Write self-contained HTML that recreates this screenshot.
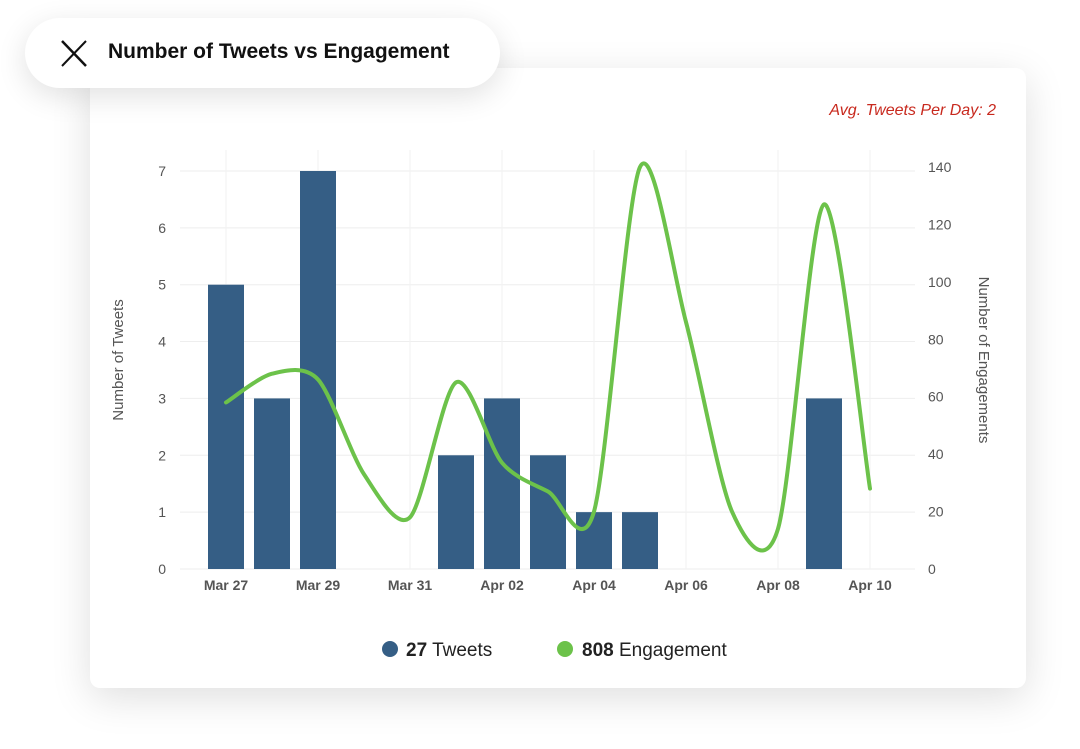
<!DOCTYPE html>
<html><head><meta charset="utf-8"><style>
body{margin:0;width:1080px;height:749px;background:#fff;font-family:"Liberation Sans",sans-serif;position:relative;overflow:hidden}
.card{position:absolute;left:90px;top:68px;width:936px;height:620px;background:#fff;border-radius:10px;box-shadow:0 10px 40px rgba(0,0,0,0.13)}
.pill{position:absolute;left:25px;top:18px;width:475px;height:70px;background:#fff;border-radius:35px;box-shadow:0 8px 30px rgba(0,0,0,0.12)}
.title{position:absolute;left:108px;top:40px;font-size:21px;font-weight:bold;color:#111}
.avg{position:absolute;right:84px;top:102px;color:#c8291e;font-style:italic;font-size:16px}
svg{position:absolute;left:0;top:0}
</style></head><body>
<div class="card"></div>
<div class="pill"></div>
<svg width="1080" height="749">
<g stroke="#111" stroke-width="2.5" fill="none"><path d="M62 41 L86 66"/><path d="M86 41 L62 66" stroke-width="2"/></g>
<g id="g"></g></svg>
<div class="title">Number of Tweets vs Engagement</div>
<div class="avg">Avg. Tweets Per Day: 2</div>
<script>
const dates=["Mar 27","Mar 28","Mar 29","Mar 30","Mar 31","Apr 01","Apr 02","Apr 03","Apr 04","Apr 05","Apr 06","Apr 07","Apr 08","Apr 09","Apr 10"];
const tweets=[5,3,7,0,0,2,3,2,1,1,0,0,0,3,0];
const engagement=[58,68,66,33,18,65,37,27,20,140,86,20,14,127,28];
const leftTicks=[0,1,2,3,4,5,6,7];
const rightTicks=[0,20,40,60,80,100,120,140];
const xLabels=["Mar 27","Mar 29","Mar 31","Apr 02","Apr 04","Apr 06","Apr 08","Apr 10"];
const NS="http://www.w3.org/2000/svg",g=document.getElementById('g');
const X=i=>226+i*46, YL=v=>569-v*56.86, YR=v=>569-v*2.8714;
function el(t,a,txt){const e=document.createElementNS(NS,t);for(const k in a)e.setAttribute(k,a[k]);if(txt!==undefined)e.textContent=txt;g.appendChild(e);return e;}
leftTicks.forEach(v=>{const l=el('line',{x1:180,x2:915,y1:YL(v),y2:YL(v),stroke:'#eeeeee'});

const t=el('text',{x:166,y:YL(v)+5,'text-anchor':'end','font-size':14,fill:'#555'},v);
});
rightTicks.forEach(v=>{const t=el('text',{x:928,y:YR(v)+5,'font-size':14,fill:'#555'},v);
});
xLabels.forEach(s=>{const idx=dates.findIndex(d=>d===s);
const x=X(idx);const l=el('line',{x1:x,x2:x,y1:150,y2:569,stroke:'#f1f1f1'});

const t=el('text',{x:x,y:590,'text-anchor':'middle','font-size':14,'font-weight':'bold',fill:'#555'},s);
});
tweets.forEach((v,i)=>{if(!v)return;const r=el('rect',{x:X(i)-18,y:YL(v),width:36,height:569-YL(v),fill:'#355e85'});
});
const p=engagement.map((v,i)=>[X(i),YR(v)]);
const k=7;
let d='M'+p[0];for(let i=0;i<p.length-1;i++){const p0=p[i-1]||p[i],p1=p[i],p2=p[i+1],p3=p[i+2]||p2;
d+=' C'+(p1[0]+(p2[0]-p0[0])/k)+','+(p1[1]+(p2[1]-p0[1])/k)+' '+(p2[0]-(p3[0]-p1[0])/k)+','+(p2[1]-(p3[1]-p1[1])/k)+' '+p2;}
const ln=el('path',{d:d,fill:'none',stroke:'#6cc24a','stroke-width':4,'stroke-linecap':'round'});

const yt=el('text',{transform:'translate(123,360) rotate(-90)','text-anchor':'middle','font-size':15,fill:'#555'},'Number of Tweets');

const yt2=el('text',{transform:'translate(979,360) rotate(90)','text-anchor':'middle','font-size':15,fill:'#555'},'Number of Engagements');

const c1=el('circle',{cx:390,cy:649,r:8,fill:'#355e85'});
const t1=el('text',{x:406,y:656,'font-size':19,fill:'#222'});t1.innerHTML='<tspan font-weight="bold">'+tweets.reduce((a,b)=>a+b,0)+'</tspan> Tweets';

const c2=el('circle',{cx:565,cy:649,r:8,fill:'#6cc24a'});
const t2=el('text',{x:582,y:656,'font-size':19,fill:'#222'});t2.innerHTML='<tspan font-weight="bold">808</tspan> Engagement';

</script></body></html>
